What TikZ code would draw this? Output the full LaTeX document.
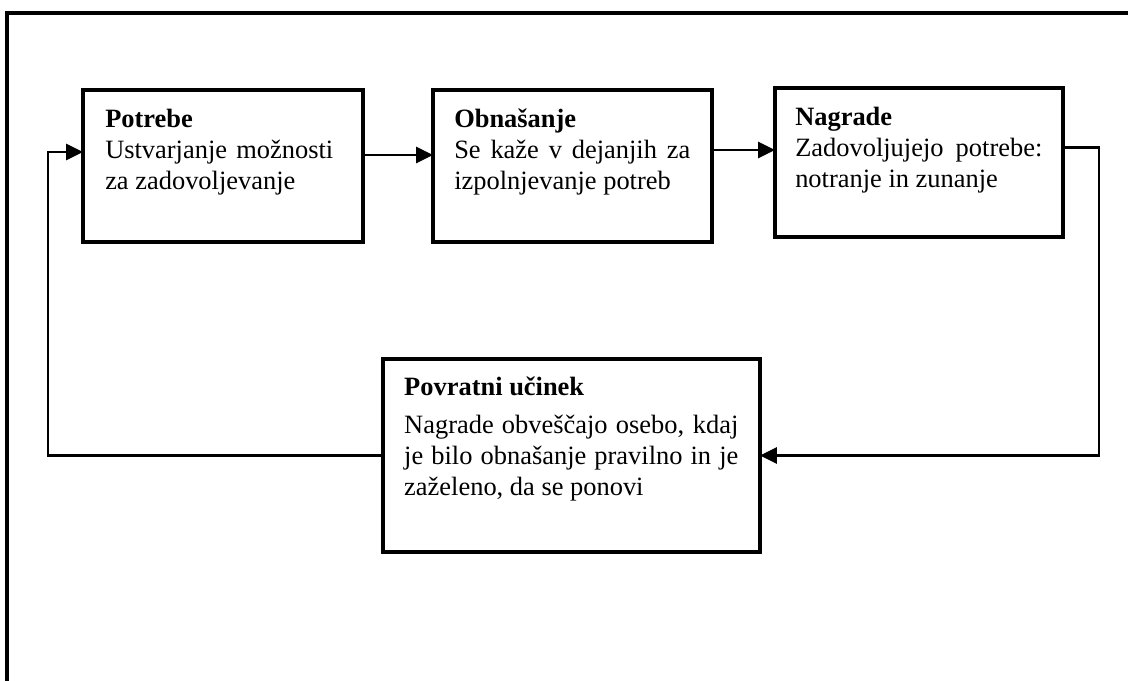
\documentclass[tikz,border=0pt]{standalone}
\usepackage{fontspec}
\setmainfont{Liberation Serif}
\usetikzlibrary{arrows.meta,positioning}
\hyphenpenalty=10000
\tikzset{arr/.style={-{Triangle[length=4.2mm,width=4mm]},line width=2pt},
  box/.style={draw,line width=2.4pt,inner sep=0pt,outer sep=0pt},
  txt/.style={inner sep=0pt,align=justify,font=\fontsize{18.8}{22}\selectfont}}

\begin{document}
\begin{tikzpicture}[x=0.025cm,y=-0.025cm]
\useasboundingbox (0,0) rectangle (1128,680);
\draw[line width=2.4pt] (7,700) -- (7,13) -- (1140,13);
% boxes
\node[box,minimum width=7cm,minimum height=3.8cm] (need) at (223,166) {};
\node[box,minimum width=6.975cm,minimum height=3.8cm] (act) at (572.5,166) {};
\node[box,minimum width=7.2cm,minimum height=3.725cm] (rew) at (919,162.5) {};
\node[box,minimum width=9.425cm,minimum height=4.825cm] (fb) at (571.5,455.5) {};
% texts
\node[txt,text width=5.7cm,below right=0.475cm and 0.55cm of need.north west] (needtxt) {\textbf{Potrebe}\\Ustvarjanje možnosti za zadovoljevanje};
\node[txt,text width=5.9cm,below right=0.475cm and 0.525cm of act.north west] (acttxt) {\textbf{Obnašanje}\\Se kaže v dejanjih za izpolnjevanje potreb};
\node[txt,text width=6.175cm,below right=0.475cm and 0.5cm of rew.north west] (rewtxt) {\textbf{Nagrade}\\Zadovoljujejo potrebe: notranje in zunanje};
\node[txt,text width=8.35cm,below right=0.45cm and 0.525cm of fb.north west] (fbtxt) {\textbf{Povratni učinek}\\[5pt]Nagrade obveščajo osebo, kdaj je bilo obnašanje pravilno in je zaželeno, da se ponovi};
% connectors
\coordinate (rgt) at ([shift={(36,-15)}]rew.east);
\coordinate (lft) at (48,0);
\draw[arr] ([shift={(0,-11)}]need.east) -- ([shift={(0,-11)}]need.east -| act.west);
\draw[arr] ([shift={(0,-16)}]act.east) -- ([shift={(0,-16)}]act.east -| rew.west);
\draw[arr] ([shift={(0,-15)}]rew.east) -- (rgt) |- (fb.east);
\draw[arr] (fb.west) -- (fb.west -| lft) |- ([shift={(0,-14)}]need.west);
\end{tikzpicture}
\end{document}
